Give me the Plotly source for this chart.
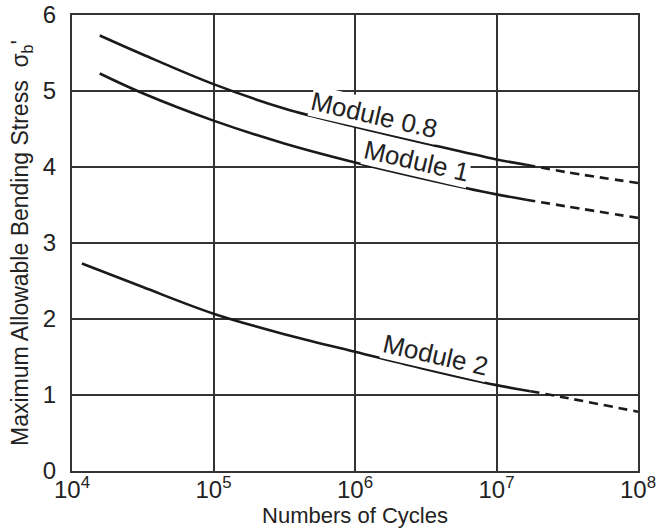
import plotly.graph_objects as go

# log10 of number of cycles
m08_log = [4.196, 4.5, 5.0, 5.5, 6.0, 6.5, 7.0, 7.21, 7.5, 8.0]
m08_stress = [5.73, 5.48, 5.09, 4.77, 4.53, 4.31, 4.10, 4.03, 3.93, 3.79]
m08_break = 7  # index where the dashed part starts

m1_log = [4.196, 4.5, 5.0, 5.5, 6.0, 6.5, 7.0, 7.21, 7.5, 8.0]
m1_stress = [5.23, 4.97, 4.61, 4.31, 4.06, 3.84, 3.64, 3.57, 3.48, 3.33]
m1_break = 7

m2_log = [4.07, 4.5, 5.0, 5.5, 6.0, 6.5, 7.0, 7.24, 7.5, 8.0]
m2_stress = [2.73, 2.42, 2.07, 1.80, 1.57, 1.34, 1.13, 1.05, 0.96, 0.78]
m2_break = 7

x_tickvals = [1e4, 1e5, 1e6, 1e7, 1e8]
x_ticktext = ["10<sup>4</sup>", "10<sup>5</sup>", "10<sup>6</sup>", "10<sup>7</sup>", "10<sup>8</sup>"]
y_tickvals = [0, 1, 2, 3, 4, 5, 6]

FONT = "Liberation Sans, Arial, sans-serif"
LINE = "#1a1a1a"

fig = go.Figure()

def add_curve(logs, ys, brk):
    xs = [10 ** v for v in logs]
    fig.add_trace(go.Scatter(x=xs[:brk + 1], y=ys[:brk + 1], mode="lines",
                             line=dict(color=LINE, width=2.6, shape="spline"),
                             showlegend=False, hoverinfo="skip"))
    fig.add_trace(go.Scatter(x=xs[brk:], y=ys[brk:], mode="lines",
                             line=dict(color=LINE, width=2.6, shape="spline", dash="9px,6px"),
                             showlegend=False, hoverinfo="skip"))

add_curve(m08_log, m08_stress, m08_break)
add_curve(m1_log, m1_stress, m1_break)
add_curve(m2_log, m2_stress, m2_break)

labels = [
    ("Module 0.8", 6.135, 4.69),
    ("Module 1", 6.438, 4.075),
    ("Module 2", 6.572, 1.52),
]
for text, lx, ly in labels:
    fig.add_annotation(x=lx, y=ly, xref="x", yref="y", text=text, showarrow=False,
                       textangle=13, bgcolor="white", borderpad=0,
                       font=dict(family=FONT, size=26, color="#222"))

fig.update_layout(
    width=661, height=531,
    margin=dict(l=71.5, r=23, t=14.7, b=60.3),
    paper_bgcolor="white", plot_bgcolor="white",
    font=dict(family=FONT, size=24, color="#222"),
)
fig.update_xaxes(type="log", range=[4, 8], tickvals=x_tickvals, ticktext=x_ticktext,
                 showgrid=True, gridcolor="#333", gridwidth=1.6,
                 showline=True, linecolor="#333", linewidth=2.2, mirror=True,
                 ticks="", ticklabelstandoff=-4, automargin=False, ticklabeloverflow="allow",
                 tickfont=dict(size=24),
                 title=dict(text="Numbers of Cycles", font=dict(size=22), standoff=0))
fig.update_yaxes(range=[0, 6], tickvals=y_tickvals,
                 showgrid=True, gridcolor="#333", gridwidth=1.6,
                 showline=True, linecolor="#333", linewidth=2.2, mirror=True,
                 ticks="", ticklabelstandoff=9, zeroline=False, automargin=False,
                 ticklabeloverflow="allow",
                 tickfont=dict(size=24),
                 title=dict(text="Maximum Allowable Bending Stress  σ<sub>b</sub>'", font=dict(size=23), standoff=8))

# drop the browser's default body margin so the figure fills the window
fig.write_html("out.html", config={"displayModeBar": False},
               post_script="document.body.style.margin = '0';")
